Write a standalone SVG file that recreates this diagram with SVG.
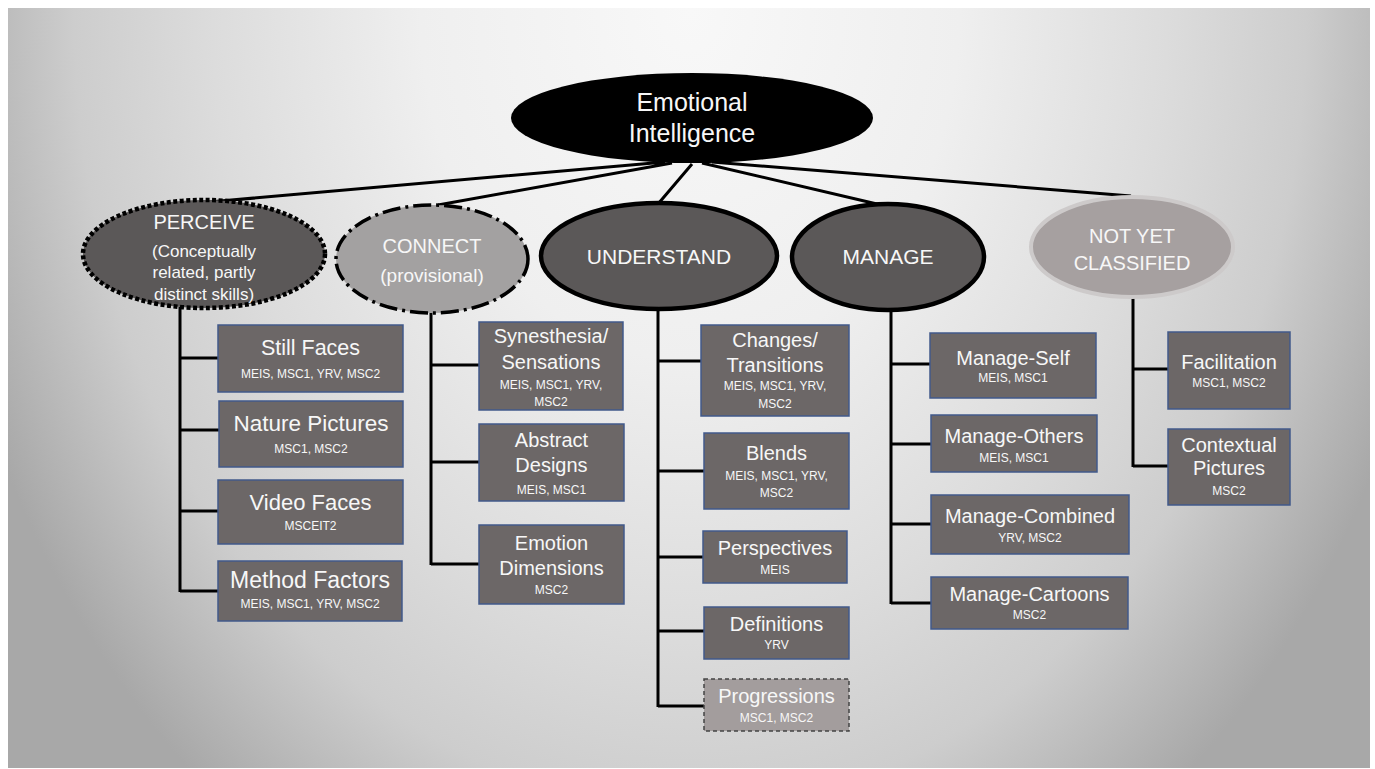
<svg xmlns="http://www.w3.org/2000/svg" width="1375" height="769" viewBox="0 0 1375 769">
<defs>
<radialGradient id="bg" gradientUnits="userSpaceOnUse" cx="0" cy="0" r="1" gradientTransform="translate(690 10) scale(770 1000)">
<stop offset="0" stop-color="#f8f8f8"/>
<stop offset="0.35" stop-color="#efefef"/>
<stop offset="0.62" stop-color="#dcdcdc"/>
<stop offset="0.8" stop-color="#cdcdcd"/>
<stop offset="1" stop-color="#a8a8a8"/>
</radialGradient>
<style>
.t{font-family:"Liberation Sans",Arial,sans-serif;fill:#f7f7f7;text-anchor:middle}
.ht{font-size:20px}
.st{font-size:12px}
.box{fill:#6c6767;stroke:#41598b;stroke-width:1.5}
.ln{stroke:#000;stroke-width:3;fill:none}
.dark{fill:#5b5858}
</style>
</defs>
<rect x="0" y="0" width="1375" height="769" fill="#ffffff"/>
<rect x="8" y="8" width="1362" height="760" fill="url(#bg)"/>

<g id="connectors">
<path class="ln" d="M665,162 L209,202 M672,163 L438,205 M692,164 L658,204 M702,163 L877,204 M712,162 L1131,196"/>
<path class="ln" d="M180,307 V592 M180,358 H218 M180,430 H219 M180,511 H218 M180,591 H218"/>
<path class="ln" d="M431,313 V565 M431,365 H479 M431,462 H479 M431,564 H479"/>
<path class="ln" d="M658,310 V707 M658,361 H701 M658,471 H704 M658,557 H703 M658,631 H704 M658,706 H704"/>
<path class="ln" d="M891,311 V604 M891,364 H930 M891,444 H931 M891,524 H931 M891,603 H931"/>
<path class="ln" d="M1133,298 V467 M1133,369 H1168 M1133,466 H1168"/>
</g>

<g id="root">
<ellipse cx="692" cy="118" rx="181" ry="45" fill="#000"/>
<text class="t" x="692" y="111" font-size="25">Emotional</text>
<text class="t" x="692" y="142" font-size="25">Intelligence</text>
</g>

<g id="perceive">
<ellipse class="dark" cx="204" cy="254" rx="121" ry="54" stroke="#000" stroke-width="4.5" stroke-dasharray="4 2.5"/>
<text class="t" x="204" y="229" font-size="20">PERCEIVE</text>
<text class="t" x="204" y="257" font-size="17">(Conceptually</text>
<text class="t" x="204" y="278" font-size="17">related, partly</text>
<text class="t" x="204" y="300" font-size="17">distinct skills)</text>
</g>

<g id="connect">
<ellipse cx="432" cy="259" rx="96" ry="54" fill="#a3a1a1" stroke="#000" stroke-width="3.5" stroke-dasharray="18 5 3 5"/>
<text class="t" x="432" y="253" font-size="20">CONNECT</text>
<text class="t" x="432" y="282" font-size="19">(provisional)</text>
</g>

<g id="understand">
<ellipse class="dark" cx="659" cy="256" rx="118" ry="53" stroke="#000" stroke-width="4.5"/>
<text class="t" x="659" y="264" font-size="21">UNDERSTAND</text>
</g>

<g id="manage">
<ellipse class="dark" cx="888" cy="257" rx="96" ry="53" stroke="#000" stroke-width="4.5"/>
<text class="t" x="888" y="264" font-size="21">MANAGE</text>
</g>

<g id="notyet">
<ellipse cx="1132" cy="247" rx="101" ry="50" fill="#a6a0a0" stroke="#cdcaca" stroke-width="4"/>
<text class="t" x="1132" y="243" font-size="20">NOT YET</text>
<text class="t" x="1132" y="270" font-size="20">CLASSIFIED</text>
</g>

<g id="still-faces">
<rect class="box" x="218" y="325" width="185" height="67"/>
<text class="t" x="310.5" y="355" font-size="21.5">Still Faces</text>
<text class="t st" x="310.5" y="378">MEIS, MSC1, YRV, MSC2</text>
</g>
<g id="nature-pictures">
<rect class="box" x="219" y="401" width="184" height="66"/>
<text class="t" x="311" y="431" font-size="22.5">Nature Pictures</text>
<text class="t st" x="311" y="453">MSC1, MSC2</text>
</g>
<g id="video-faces">
<rect class="box" x="218" y="480" width="185" height="64"/>
<text class="t" x="310.5" y="510" font-size="22">Video Faces</text>
<text class="t st" x="310.5" y="530">MSCEIT2</text>
</g>
<g id="method-factors">
<rect class="box" x="218" y="561" width="184" height="60"/>
<text class="t" x="310" y="588" font-size="23">Method Factors</text>
<text class="t st" x="310" y="608">MEIS, MSC1, YRV, MSC2</text>
</g>

<g id="synesthesia">
<rect class="box" x="479" y="322" width="144" height="88"/>
<text class="t ht" x="551" y="343">Synesthesia/</text>
<text class="t ht" x="551" y="369">Sensations</text>
<text class="t st" x="551" y="389">MEIS, MSC1, YRV,</text>
<text class="t st" x="551" y="406">MSC2</text>
</g>
<g id="abstract-designs">
<rect class="box" x="479" y="424" width="145" height="77"/>
<text class="t ht" x="551.5" y="447">Abstract</text>
<text class="t ht" x="551.5" y="472">Designs</text>
<text class="t st" x="551.5" y="494">MEIS, MSC1</text>
</g>
<g id="emotion-dimensions">
<rect class="box" x="479" y="525" width="145" height="79"/>
<text class="t ht" x="551.5" y="550">Emotion</text>
<text class="t ht" x="551.5" y="575">Dimensions</text>
<text class="t st" x="551.5" y="594">MSC2</text>
</g>

<g id="changes">
<rect class="box" x="701" y="325" width="148" height="91"/>
<text class="t ht" x="775" y="347">Changes/</text>
<text class="t ht" x="775" y="372">Transitions</text>
<text class="t st" x="775" y="390">MEIS, MSC1, YRV,</text>
<text class="t st" x="775" y="408">MSC2</text>
</g>
<g id="blends">
<rect class="box" x="704" y="433" width="145" height="76"/>
<text class="t ht" x="776.5" y="460">Blends</text>
<text class="t st" x="776.5" y="480">MEIS, MSC1, YRV,</text>
<text class="t st" x="776.5" y="497">MSC2</text>
</g>
<g id="perspectives">
<rect class="box" x="703" y="531" width="144" height="52"/>
<text class="t ht" x="775" y="555">Perspectives</text>
<text class="t st" x="775" y="574">MEIS</text>
</g>
<g id="definitions">
<rect class="box" x="704" y="607" width="145" height="52"/>
<text class="t ht" x="776.5" y="631">Definitions</text>
<text class="t st" x="776.5" y="649">YRV</text>
</g>
<g id="progressions">
<rect x="704" y="679" width="145" height="52" fill="#a39d9d" stroke="#444" stroke-width="1.5" stroke-dasharray="4 3"/>
<text class="t ht" x="776.5" y="703">Progressions</text>
<text class="t st" x="776.5" y="722">MSC1, MSC2</text>
</g>

<g id="manage-self">
<rect class="box" x="930" y="333" width="166" height="65"/>
<text class="t ht" x="1013" y="365">Manage-Self</text>
<text class="t st" x="1013" y="382">MEIS, MSC1</text>
</g>
<g id="manage-others">
<rect class="box" x="931" y="415" width="166" height="57"/>
<text class="t ht" x="1014" y="443">Manage-Others</text>
<text class="t st" x="1014" y="462">MEIS, MSC1</text>
</g>
<g id="manage-combined">
<rect class="box" x="931" y="495" width="198" height="59"/>
<text class="t ht" x="1030" y="523">Manage-Combined</text>
<text class="t st" x="1030" y="542">YRV, MSC2</text>
</g>
<g id="manage-cartoons">
<rect class="box" x="931" y="577" width="197" height="52"/>
<text class="t ht" x="1029.5" y="601">Manage-Cartoons</text>
<text class="t st" x="1029.5" y="619">MSC2</text>
</g>

<g id="facilitation">
<rect class="box" x="1168" y="332" width="122" height="77"/>
<text class="t ht" x="1229" y="369">Facilitation</text>
<text class="t st" x="1229" y="387">MSC1, MSC2</text>
</g>
<g id="contextual-pictures">
<rect class="box" x="1168" y="429" width="122" height="76"/>
<text class="t ht" x="1229" y="452">Contextual</text>
<text class="t ht" x="1229" y="475">Pictures</text>
<text class="t st" x="1229" y="495">MSC2</text>
</g>
</svg>
